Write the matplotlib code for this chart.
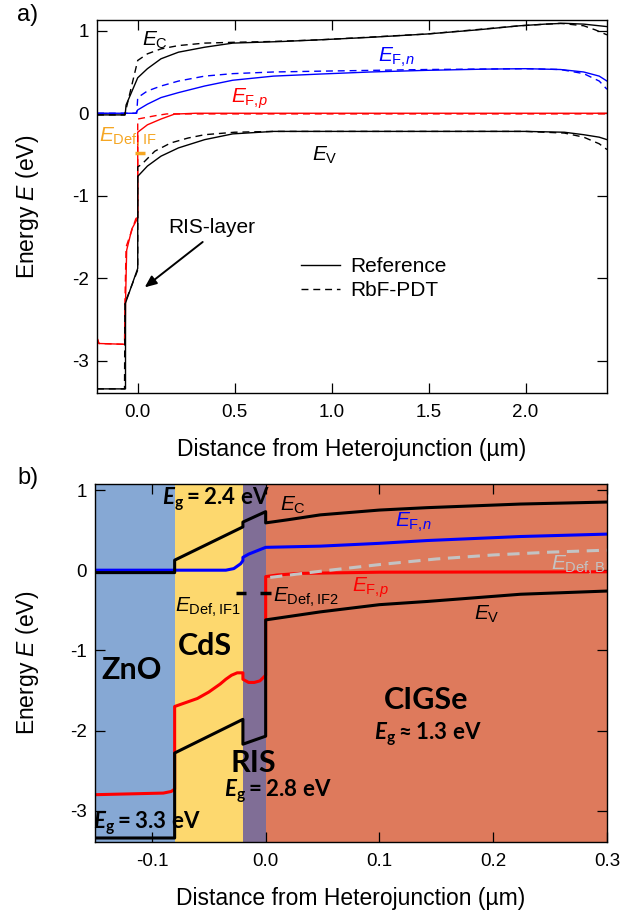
import matplotlib
matplotlib.use('Agg')
import matplotlib.pyplot as plt
from matplotlib.lines import Line2D

plt.rcParams.update({
    'font.family': ['Liberation Sans', 'DejaVu Sans'],
    'mathtext.fontset': 'custom',
    'mathtext.rm': 'Liberation Sans',
    'mathtext.it': 'Liberation Sans:italic',
    'mathtext.bf': 'Lato:bold',
    'mathtext.bfit': 'Lato:bold:italic',
    'axes.unicode_minus': False,
})

# ---------------- Panel a data (x in um, energy in eV) ----------------
# Reference (solid)
ec_ref_x = [-0.21, -0.065, -0.06, 0.0, 0.05, 0.12, 0.21, 0.345, 0.49, 0.75, 0.94, 1.2, 1.49, 1.75, 1.97, 2.1, 2.2, 2.3, 2.42]
ec_ref_y = [-0.02, -0.02, 0.10, 0.43, 0.54, 0.66, 0.74, 0.80, 0.85, 0.87, 0.89, 0.92, 0.96, 1.01, 1.06, 1.08, 1.09, 1.08, 1.05]
efn_ref_x = [-0.21, -0.01, 0.0, 0.05, 0.12, 0.21, 0.345, 0.49, 0.7, 0.94, 1.2, 1.49, 1.8, 2.0, 2.18, 2.3, 2.38, 2.42]
efn_ref_y = [0.0, 0.0, 0.04, 0.11, 0.19, 0.25, 0.33, 0.40, 0.45, 0.475, 0.50, 0.52, 0.535, 0.54, 0.53, 0.50, 0.45, 0.39]
efp_ref_x = [-0.21, -0.20, -0.065, -0.063, -0.057, -0.03, 0.0, 0.0, 0.05, 0.12, 0.19, 0.3, 2.42]
efp_ref_y = [-2.72, -2.79, -2.80, -2.30, -1.66, -1.40, -1.27, -0.23, -0.14, -0.07, -0.01, 0.0, 0.0]
ev_ref_x = [-0.21, -0.063, -0.063, 0.0, 0.0, 0.05, 0.12, 0.21, 0.345, 0.49, 0.7, 1.0, 1.5, 2.0, 2.2, 2.3, 2.38, 2.42]
ev_ref_y = [-3.34, -3.34, -2.30, -1.88, -0.765, -0.64, -0.52, -0.42, -0.32, -0.25, -0.22, -0.22, -0.22, -0.22, -0.23, -0.26, -0.29, -0.32]

# RbF-PDT (dashed)
ec_rbf_x = [-0.21, -0.068, -0.06, 0.0, 0.05, 0.12, 0.21, 0.345, 0.5, 0.7, 0.94, 1.49, 1.97, 2.18, 2.3, 2.36, 2.42]
ec_rbf_y = [-0.02, -0.02, 0.05, 0.64, 0.72, 0.78, 0.82, 0.85, 0.86, 0.87, 0.89, 0.96, 1.06, 1.09, 1.06, 1.01, 0.95]
efn_rbf_x = [-0.21, -0.005, 0.0, 0.05, 0.12, 0.21, 0.345, 0.49, 0.7, 0.94, 1.49, 2.0, 2.18, 2.3, 2.38, 2.42]
efn_rbf_y = [0.0, 0.0, 0.19, 0.27, 0.33, 0.39, 0.45, 0.48, 0.50, 0.51, 0.53, 0.54, 0.53, 0.48, 0.39, 0.29]
efp_rbf_x = [-0.21, -0.20, -0.068, -0.066, -0.06, -0.01, 0.0, 0.0, 0.09, 0.15, 2.42]
efp_rbf_y = [-2.72, -2.79, -2.80, -2.30, -1.62, -1.28, -1.25, -0.07, -0.03, -0.008, -0.008]
ev_rbf_x = [-0.21, -0.068, -0.066, 0.0, 0.0, 0.02, 0.088, 0.17, 0.26, 0.345, 0.5, 0.7, 1.5, 2.0, 2.2, 2.3, 2.38, 2.42]
ev_rbf_y = [-3.34, -3.34, -2.30, -1.90, -0.65, -0.62, -0.46, -0.36, -0.30, -0.26, -0.23, -0.22, -0.22, -0.22, -0.24, -0.29, -0.37, -0.44]

edef_if_x = [-0.015, 0.035]
edef_if_y = [-0.48, -0.48]

legend_labels = ['Reference', 'RbF-PDT']

# ---------------- Panel b data ----------------
layer_edges = [-0.15, -0.08, -0.02, 0.0, 0.3]
layer_names = ['ZnO', 'CdS', 'RIS', 'CIGSe']
layer_colors = ['#86a8d4', '#fdd86e', '#806e96', '#de7a5c']

ec_b_x = [-0.15, -0.08, -0.08, -0.02, -0.02, 0.0, 0.0, 0.02, 0.048, 0.1, 0.142, 0.224, 0.3]
ec_b_y = [-0.03, -0.03, 0.125, 0.54, 0.60, 0.73, 0.59, 0.63, 0.69, 0.75, 0.78, 0.825, 0.85]
efn_b_x = [-0.15, -0.035, -0.028, -0.022, -0.02, -0.02, -0.015, 0.0, 0.048, 0.1, 0.142, 0.224, 0.3]
efn_b_y = [0.0, 0.0, 0.02, 0.08, 0.12, 0.16, 0.20, 0.285, 0.30, 0.335, 0.37, 0.42, 0.45]
efp_b_x = [-0.15, -0.09, -0.083, -0.08, -0.08, -0.07, -0.06, -0.05, -0.04, -0.035, -0.03, -0.025, -0.02,
           -0.02, -0.015, -0.01, -0.005, 0.0, 0.0, 0.01, 0.03, 0.1, 0.3]
efp_b_y = [-2.80, -2.78, -2.76, -2.73, -1.70, -1.65, -1.60, -1.52, -1.42, -1.36, -1.31, -1.28, -1.28,
           -1.36, -1.40, -1.40, -1.38, -1.31, -0.08, -0.06, -0.04, -0.025, -0.02]
ev_b_x = [-0.15, -0.08, -0.08, -0.02, -0.02, 0.0, 0.0, 0.048, 0.1, 0.142, 0.224, 0.3]
ev_b_y = [-3.34, -3.34, -2.28, -1.86, -2.17, -2.07, -0.62, -0.52, -0.43, -0.39, -0.30, -0.26]
edefb_x = [0.004, 0.05, 0.1, 0.15, 0.2, 0.25, 0.3]
edefb_y = [-0.09, -0.01, 0.07, 0.14, 0.19, 0.225, 0.25]
edef_if1_x = [-0.026, -0.017]
edef_if2_x = [-0.005, 0.005]
edef_if_b_y = [-0.28, -0.28]

BLUE = '#0000ff'
RED = '#ff0000'
ORANGE = '#f5a623'
GRAY = '#c3c3c3'

TICK_FS = 13.5
LABEL_FS = 16.5
TXT_FS = 15

EFN = r'$E_{\mathrm{F},\!n}$'
EFP = r'$E_{\mathrm{F},\!p}$'

fig = plt.figure(figsize=(6.42, 9.15), dpi=100)
axa = fig.add_axes([97 / 642, 1 - 393 / 915, 510 / 642, 373 / 915])
axb = fig.add_axes([95 / 642, 1 - 842 / 915, 512 / 642, 358 / 915])

# ---------------- Panel a ----------------
LWA = 1.0
DASH = (0, (5, 3.5))
axa.plot(efn_ref_x, efn_ref_y, color=BLUE, lw=LWA)
axa.plot(efn_rbf_x, efn_rbf_y, color=BLUE, lw=LWA, ls=DASH)
axa.plot(efp_rbf_x, efp_rbf_y, color=RED, lw=LWA, ls=DASH)
axa.plot(efp_ref_x, efp_ref_y, color=RED, lw=LWA)
axa.plot(ec_rbf_x, ec_rbf_y, color='black', lw=LWA, ls=DASH)
axa.plot(ev_rbf_x, ev_rbf_y, color='black', lw=LWA, ls=DASH)
axa.plot(ec_ref_x, ec_ref_y, color='black', lw=LWA)
axa.plot(ev_ref_x, ev_ref_y, color='black', lw=LWA)
axa.plot(edef_if_x, edef_if_y, color=ORANGE, lw=2.5, solid_capstyle='butt')

axa.set_xlim(-0.21, 2.42)
axa.set_ylim(-3.39, 1.13)
axa.set_xticks([0.0, 0.5, 1.0, 1.5, 2.0])
axa.set_yticks([-3, -2, -1, 0, 1])

axa.text(0.088, 0.88, r'$E_\mathrm{C}$', fontsize=TXT_FS, ha='center', va='center')
axa.text(1.335, 0.68, EFN, fontsize=TXT_FS, ha='center', va='center', color=BLUE)
axa.text(0.577, 0.17, EFP, fontsize=TXT_FS, ha='center', va='center', color=RED)
axa.text(0.964, -0.51, r'$E_\mathrm{V}$', fontsize=TXT_FS, ha='center', va='center')
axa.text(-0.05, -0.29, r'$E_\mathrm{Def,IF}$', fontsize=TXT_FS, ha='center', va='center', color=ORANGE)
axa.text(0.38, -1.39, 'RIS-layer', fontsize=TXT_FS, ha='center', va='center')
axa.annotate('', xy=(0.036, -2.11), xytext=(0.335, -1.56),
             arrowprops=dict(arrowstyle='-|>,head_length=0.7,head_width=0.3', color='black', lw=1.4,
                             shrinkA=0, shrinkB=0))

handles = [Line2D([], [], color='black', lw=LWA), Line2D([], [], color='black', lw=LWA, ls=DASH)]
axa.legend(handles, legend_labels, loc='upper left', bbox_to_anchor=(0.40, 0.364), frameon=False,
           fontsize=TXT_FS, handlelength=1.85, handletextpad=0.5, borderpad=0, borderaxespad=0,
           labelspacing=0.25)

axa.set_xlabel('Distance from Heterojunction (µm)', fontsize=LABEL_FS)
axa.set_ylabel('Energy $E$ (eV)', fontsize=LABEL_FS)
axa.xaxis.set_label_coords(0.5, -0.12)
axa.yaxis.set_label_coords(-0.11, 0.5)

# ---------------- Panel b ----------------
for i in range(len(layer_names)):
    axb.axvspan(layer_edges[i], layer_edges[i + 1], color=layer_colors[i], lw=0, zorder=0)

LWB = 2.2
axb.plot(efn_b_x, efn_b_y, color=BLUE, lw=LWB)
axb.plot(efp_b_x, efp_b_y, color=RED, lw=LWB)
axb.plot(edefb_x, edefb_y, color=GRAY, lw=LWB, ls=(0, (4, 2.5)))
axb.plot(ec_b_x, ec_b_y, color='black', lw=LWB)
axb.plot(ev_b_x, ev_b_y, color='black', lw=LWB)
axb.plot(edef_if1_x, edef_if_b_y, color='black', lw=LWB + 0.3, solid_capstyle='butt')
axb.plot(edef_if2_x, edef_if_b_y, color='black', lw=LWB + 0.3, solid_capstyle='butt')

axb.set_xlim(-0.15, 0.3)
axb.set_ylim(-3.39, 1.075)
axb.set_xticks([-0.1, 0.0, 0.1, 0.2, 0.3])
axb.set_yticks([-3, -2, -1, 0, 1])

BIG = 22
axb.text(-0.118, -1.25, 'ZnO', fontsize=BIG, fontfamily='Lato', fontweight='bold', ha='center', va='center')
axb.text(-0.053, -0.94, 'CdS', fontsize=BIG, fontfamily='Lato', fontweight='bold', ha='center', va='center')
axb.text(-0.0106, -2.40, 'RIS', fontsize=BIG, fontfamily='Lato', fontweight='bold', ha='center', va='center')
axb.text(0.141, -1.62, 'CIGSe', fontsize=BIG, fontfamily='Lato', fontweight='bold', ha='center', va='center')

EG_FS = 16
axb.text(-0.044, 0.89, r'$\mathbfit{E}_{\mathbf{g}}\mathbf{=2.4\ eV}$', fontsize=EG_FS, ha='center', va='center')
axb.text(0.0106, -2.75, r'$\mathbfit{E}_{\mathbf{g}}\mathbf{=2.8\ eV}$', fontsize=EG_FS, ha='center', va='center')
axb.text(-0.104, -3.15, r'$\mathbfit{E}_{\mathbf{g}}\mathbf{=3.3\ eV}$', fontsize=EG_FS, ha='center', va='center')
axb.text(0.143, -2.04, r'$\mathbfit{E}_{\mathbf{g}}\mathbf{\approx 1.3\ eV}$', fontsize=EG_FS, ha='center', va='center')

axb.text(0.024, 0.81, r'$E_\mathrm{C}$', fontsize=TXT_FS, ha='center', va='center')
axb.text(0.13, 0.60, EFN, fontsize=TXT_FS, ha='center', va='center', color=BLUE)
axb.text(0.092, -0.225, EFP, fontsize=TXT_FS, ha='center', va='center', color=RED)
axb.text(0.194, -0.55, r'$E_\mathrm{V}$', fontsize=TXT_FS, ha='center', va='center')
axb.text(0.275, 0.06, r'$E_\mathrm{Def,B}$', fontsize=TXT_FS, ha='center', va='center', color=GRAY)
axb.text(-0.051, -0.46, r'$E_\mathrm{Def,IF1}$', fontsize=TXT_FS, ha='center', va='center')
axb.text(0.035, -0.34, r'$E_\mathrm{Def,IF2}$', fontsize=TXT_FS, ha='center', va='center')

axb.set_xlabel('Distance from Heterojunction (µm)', fontsize=LABEL_FS)
axb.set_ylabel('Energy $E$ (eV)', fontsize=LABEL_FS)
axb.xaxis.set_label_coords(0.5, -0.125)
axb.yaxis.set_label_coords(-0.105, 0.5)

for ax in (axa, axb):
    ax.tick_params(direction='in', top=True, right=True, length=7, width=0.9,
                   labelsize=TICK_FS)
    ax.tick_params(axis='x', pad=8)
    ax.tick_params(axis='y', pad=6)
    for s in ax.spines.values():
        s.set_linewidth(1.0)

fig.text(17 / 642, 1 - 15 / 915, 'a)', fontsize=17, ha='left', va='center')
fig.text(17 / 642, 1 - 478 / 915, 'b)', fontsize=17, ha='left', va='center')

fig.savefig('out.png', dpi=100)
